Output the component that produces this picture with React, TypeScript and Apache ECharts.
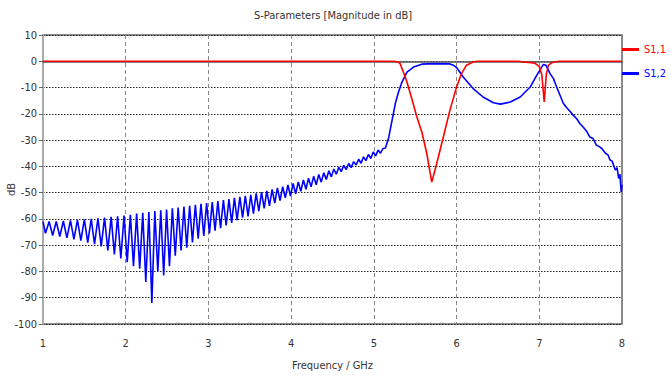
import React, { useEffect, useRef } from "react";
import * as echarts from "echarts";

const TITLE = "S-Parameters [Magnitude in dB]";
const X_NAME = "Frequency / GHz";
const Y_NAME = "dB";
const SERIES_NAMES = ["S1,1", "S1,2"];

// S1,1 (red) [GHz, dB]
const s11: [number, number][] = [
  [1.0, 0], [5.25, 0], [5.3, -0.4], [5.317, -0.9], [5.357, -4.1], [5.4, -7.9],
  [5.458, -14.2], [5.52, -21.2], [5.58, -26.9], [5.64, -35.1], [5.7, -46],
  [5.76, -38.9], [5.84, -28.8], [5.92, -18.6], [6.0, -9.8], [6.06, -4.7],
  [6.12, -1.5], [6.2, -0.3], [6.25, 0], [6.75, 0], [6.8, -0.3], [6.9, -0.5],
  [6.95, -0.8], [7.0, -2], [7.03, -5], [7.06, -15.5], [7.085, -5], [7.11, -1.5],
  [7.15, -0.6], [7.2, -0.2], [7.25, 0], [8.0, 0],
];

// S1,2 (blue) ripple maxima [GHz, dB]
const s12Peaks: [number, number][] = [
  [1.0, -61], [1.074, -61], [1.16, -61], [1.246, -60.8], [1.332, -60.6],
  [1.416, -60.4], [1.5, -60.2], [1.583, -60], [1.664, -59.8], [1.744, -59.5],
  [1.824, -59.2], [1.902, -59], [1.98, -58.7], [2.056, -58.4], [2.132, -58],
  [2.206, -57.7], [2.28, -57.4], [2.352, -57], [2.424, -56.7], [2.494, -56.4],
  [2.564, -56], [2.634, -55.7], [2.704, -55.3], [2.773, -55], [2.842, -54.6],
  [2.91, -54.3], [2.978, -54], [3.046, -53.6], [3.114, -53.2], [3.181, -52.8],
  [3.248, -52.5], [3.314, -52], [3.38, -51.6], [3.446, -51.2], [3.512, -50.8],
  [3.577, -50.3], [3.642, -49.8], [3.706, -49.3], [3.77, -48.8], [3.834, -48.2],
  [3.898, -47.7], [3.961, -47.1], [4.024, -46.5], [4.086, -45.9], [4.148, -45.2],
  [4.21, -44.5], [4.272, -43.8], [4.334, -43.1], [4.395, -42.4], [4.456, -41.7],
  [4.516, -41], [4.576, -40.3], [4.636, -39.6], [4.696, -38.9], [4.756, -38.2],
  [4.816, -37.3], [4.875, -36.4], [4.934, -35.5], [4.993, -34.5], [5.051, -33.8],
  [5.11, -33.2],
];

// S1,2 (blue) ripple minima [GHz, dB]
const s12Troughs: [number, number][] = [
  [1.03, -65.5], [1.117, -66.3], [1.203, -66.7], [1.289, -67.2], [1.374, -67.8],
  [1.458, -68.3], [1.541, -69], [1.623, -69.6], [1.704, -70.5], [1.784, -72],
  [1.863, -73.5], [1.941, -75], [2.018, -76.5], [2.094, -78], [2.169, -79],
  [2.243, -84], [2.316, -92], [2.388, -80], [2.459, -81.5], [2.529, -78],
  [2.599, -74], [2.669, -72], [2.738, -71], [2.807, -69], [2.876, -67.5],
  [2.944, -66.5], [3.012, -65.5], [3.08, -64.5], [3.147, -63.5], [3.214, -62.5],
  [3.281, -61.5], [3.347, -60.5], [3.413, -59.5], [3.479, -59], [3.544, -58],
  [3.609, -57], [3.674, -56], [3.738, -55], [3.802, -54], [3.866, -53],
  [3.929, -52], [3.992, -51.3], [4.055, -50.5], [4.117, -49.5], [4.179, -48.7],
  [4.241, -47.8], [4.303, -47], [4.364, -46], [4.425, -45], [4.486, -44],
  [4.546, -43], [4.606, -42], [4.666, -41.2], [4.726, -40.5], [4.786, -39.5],
  [4.845, -38.8], [4.904, -37.8], [4.963, -37], [5.022, -36], [5.08, -35],
];

// S1,2 (blue) passband and upper tail [GHz, dB]
const s12Tail: [number, number][] = [
  [5.14, -33], [5.18, -29], [5.22, -22.5], [5.26, -16], [5.3, -11.5],
  [5.34, -7.9], [5.4, -4.1], [5.48, -2.2], [5.58, -1.1], [5.72, -0.9],
  [5.92, -1.0], [5.96, -1.5], [6.0, -2.4], [6.08, -6], [6.2, -10.4],
  [6.32, -13.6], [6.445, -15.8], [6.53, -16.3], [6.65, -15.5], [6.77, -13.6],
  [6.89, -9.8], [6.97, -5.3], [7.05, -1.2], [7.08, -1.5], [7.13, -4.7],
  [7.17, -6.5], [7.21, -9.8], [7.29, -16], [7.33, -17.6], [7.37, -19],
  [7.41, -20.5], [7.45, -21.8], [7.49, -23.7], [7.53, -25], [7.57, -26.5],
  [7.61, -28.8], [7.65, -29.4], [7.69, -31.9], [7.73, -32.6], [7.755, -33.2],
  [7.8, -35], [7.83, -35.6], [7.855, -37.6], [7.88, -38], [7.92, -41.4],
  [7.94, -40.5], [7.96, -44.6], [7.975, -43], [7.99, -49.7], [8.0, -47],
];

const FONT = "'Liberation Sans Narrow', 'DejaVu Sans Condensed', 'Roboto Condensed', sans-serif";

export default function App() {
  const ref = useRef<HTMLDivElement>(null);
  useEffect(() => {
    document.body.style.margin = "0";
    if (!ref.current) return;
    const chart = echarts.init(ref.current, undefined, { renderer: "svg" });
    const s12 = [...s12Peaks, ...s12Troughs]
      .sort((a, b) => a[0] - b[0])
      .concat(s12Tail);
    chart.setOption({
      animation: false,
      backgroundColor: "#ffffff",
      textStyle: { fontFamily: FONT },
      title: {
        text: TITLE,
        left: 328,
        textAlign: "center",
        top: 5,
        textStyle: { fontFamily: FONT, fontSize: 11, fontWeight: "normal", color: "#333" },
      },
      legend: {
        orient: "vertical",
        right: 0,
        top: 39,
        itemGap: 13,
        itemWidth: 17,
        itemHeight: 3,
        icon: "rect",
        textStyle: { fontFamily: FONT, fontSize: 11 },
        data: [
          { name: SERIES_NAMES[0], textStyle: { color: "#ff0000" } },
          { name: SERIES_NAMES[1], textStyle: { color: "#0000ff" } },
        ],
      },
      grid: {
        left: 43,
        right: 49,
        top: 35,
        bottom: 52,
        show: true,
        borderColor: "#666",
        borderWidth: 1.5,
        outerBoundsMode: "none",
        containLabel: false,
      },
      xAxis: {
        type: "value",
        min: 1,
        max: 8,
        interval: 1,
        name: X_NAME,
        nameLocation: "middle",
        nameGap: 36,
        nameMoveOverlap: false,
        nameTextStyle: { fontFamily: FONT, fontSize: 11, color: "#333" },
        axisLine: { lineStyle: { color: "#555", width: 1.5 } },
        axisTick: { show: false },
        axisLabel: { fontFamily: FONT, fontSize: 11, color: "#333", margin: 14 },
        splitLine: { show: true, lineStyle: { color: "#888", type: [4, 3], width: 1 } },
      },
      yAxis: {
        type: "value",
        min: -100,
        max: 10,
        interval: 10,
        name: Y_NAME,
        nameLocation: "middle",
        nameGap: 26,
        nameMoveOverlap: false,
        nameTextStyle: { fontFamily: FONT, fontSize: 11, color: "#333", padding: [0, 20, 0, 0] },
        axisLine: { show: true, lineStyle: { color: "#aaa", width: 2 } },
        axisTick: { show: true, length: 4, lineStyle: { color: "#666" } },
        axisLabel: { fontFamily: FONT, fontSize: 11, color: "#333", margin: 6 },
        splitLine: { show: true, lineStyle: { color: "#222", type: [1.5, 1.5], width: 1 } },
      },
      series: [
        {
          name: SERIES_NAMES[1],
          type: "line",
          data: s12,
          showSymbol: false,
          lineStyle: { color: "#0000ff", width: 1.6 },
          itemStyle: { color: "#0000ff" },
          z: 2,
        },
        {
          name: SERIES_NAMES[0],
          type: "line",
          data: s11,
          showSymbol: false,
          lineStyle: { color: "#ff0000", width: 1.6 },
          itemStyle: { color: "#ff0000" },
          z: 3,
        },
      ],
    });
    return () => chart.dispose();
  }, []);
  return <div ref={ref} style={{ width: 671, height: 376 }} />;
}
